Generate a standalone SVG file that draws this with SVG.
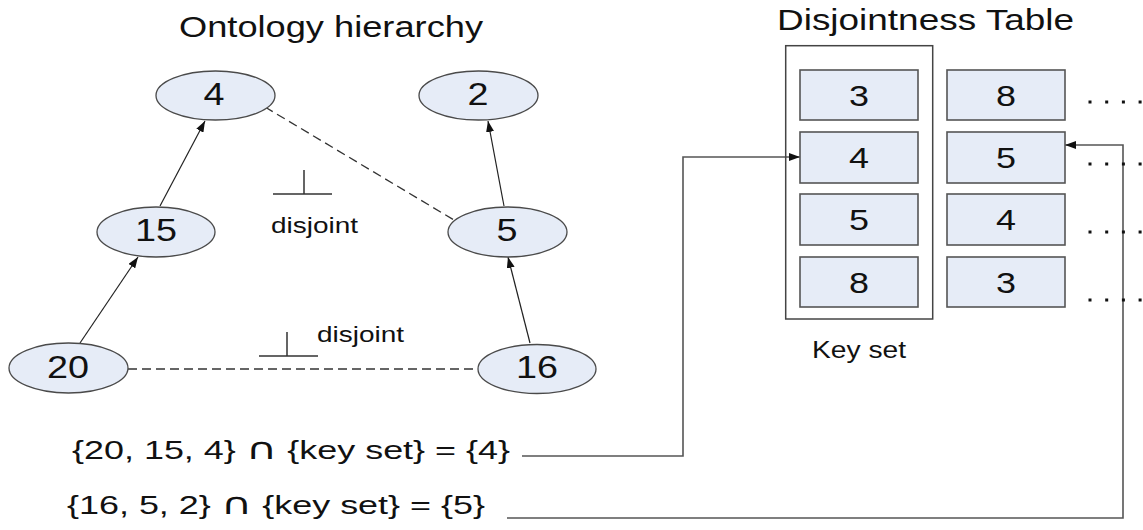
<svg xmlns="http://www.w3.org/2000/svg" width="1143" height="530" viewBox="0 0 1143 530">
<style>
text{font-family:"Liberation Sans",Arial,sans-serif;fill:#111;}
.node ellipse{fill:#e6ecf7;stroke:#4a4a4a;stroke-width:1.3;}
.cell rect{fill:#e6ecf7;stroke:#555;stroke-width:1.6;}
.lbl{font-size:31px;text-anchor:middle;}
.cl{font-size:29px;text-anchor:middle;}
.cap{font-family:"DejaVu Sans",sans-serif;font-size:30px;}
.edge{stroke:#222;stroke-width:1.2;fill:none;marker-end:url(#arr);}
.dash{stroke:#333;stroke-width:1.3;fill:none;stroke-dasharray:9 5;}
.conn{stroke:#555;stroke-width:1.6;fill:none;marker-end:url(#arr);}
.sym{stroke:#333;stroke-width:1.5;fill:none;}
.dots{stroke:#111;stroke-width:3;stroke-dasharray:3 13.7;}
</style>
<defs>
<marker id="arr" markerWidth="12" markerHeight="8" refX="11" refY="4" orient="auto" markerUnits="userSpaceOnUse">
<path d="M0,0 L11,4 L0,8 z" fill="#111"/>
</marker>
</defs>
<rect width="1143" height="530" fill="#fff"/>

<text x="179" y="37" font-size="29" textLength="304" lengthAdjust="spacingAndGlyphs">Ontology hierarchy</text>
<text x="777" y="30" font-size="29" textLength="297" lengthAdjust="spacingAndGlyphs">Disjointness Table</text>

<g id="connectors">
<line class="edge" x1="160" y1="206" x2="205" y2="121"/>
<line class="edge" x1="504" y1="206" x2="488" y2="121"/>
<line class="edge" x1="80" y1="343" x2="138" y2="257"/>
<line class="edge" x1="530" y1="343" x2="508" y2="257"/>
<line class="dash" x1="265" y1="107" x2="454" y2="220"/>
<line class="dash" x1="128" y1="369" x2="478" y2="369"/>
<polyline class="conn" points="522,456 683,456 683,157 800,157"/>
<polyline class="conn" points="507,518 1123,518 1123,145 1065,145"/>
</g>

<g id="disjoint-symbol-1">
<path class="sym" d="M304,170 V194 M273,194 H332"/>
<text x="271" y="233" font-size="22" textLength="87" lengthAdjust="spacingAndGlyphs">disjoint</text>
</g>
<g id="disjoint-symbol-2">
<path class="sym" d="M287,332 V356 M259,356 H318"/>
<text x="317" y="342" font-size="22" textLength="87" lengthAdjust="spacingAndGlyphs">disjoint</text>
</g>

<g id="node-4" class="node"><ellipse cx="215.5" cy="95.5" rx="59.5" ry="24.5"/><text class="lbl" x="214" y="105" textLength="21" lengthAdjust="spacingAndGlyphs">4</text></g>
<g id="node-2" class="node"><ellipse cx="478.5" cy="95.5" rx="59.5" ry="24.5"/><text class="lbl" x="478" y="105" textLength="21" lengthAdjust="spacingAndGlyphs">2</text></g>
<g id="node-15" class="node"><ellipse cx="156" cy="232" rx="59" ry="25"/><text class="lbl" x="156" y="241" textLength="42" lengthAdjust="spacingAndGlyphs">15</text></g>
<g id="node-5" class="node"><ellipse cx="507.5" cy="232" rx="59.5" ry="25"/><text class="lbl" x="507" y="241" textLength="21" lengthAdjust="spacingAndGlyphs">5</text></g>
<g id="node-20" class="node"><ellipse cx="68.5" cy="368" rx="59.5" ry="25"/><text class="lbl" x="68" y="378" textLength="42" lengthAdjust="spacingAndGlyphs">20</text></g>
<g id="node-16" class="node"><ellipse cx="537" cy="369" rx="59" ry="24.5"/><text class="lbl" x="537" y="378" textLength="42" lengthAdjust="spacingAndGlyphs">16</text></g>

<g id="key-set">
<rect x="785.7" y="45.7" width="147" height="273.3" fill="none" stroke="#444" stroke-width="1.5"/>
<text x="812" y="358" font-size="23" textLength="94" lengthAdjust="spacingAndGlyphs">Key set</text>
</g>

<g id="cell-k3" class="cell"><rect x="800" y="70" width="118" height="50"/><text class="cl" x="859" y="105.5" textLength="20" lengthAdjust="spacingAndGlyphs">3</text></g>
<g id="cell-k4" class="cell"><rect x="800" y="132" width="118" height="51"/><text class="cl" x="859" y="168" textLength="20" lengthAdjust="spacingAndGlyphs">4</text></g>
<g id="cell-k5" class="cell"><rect x="800" y="194" width="118" height="51"/><text class="cl" x="859" y="230" textLength="20" lengthAdjust="spacingAndGlyphs">5</text></g>
<g id="cell-k8" class="cell"><rect x="800" y="257" width="118" height="50"/><text class="cl" x="859" y="292.5" textLength="20" lengthAdjust="spacingAndGlyphs">8</text></g>
<g id="cell-v8" class="cell"><rect x="947" y="70" width="118" height="50"/><text class="cl" x="1006" y="105.5" textLength="20" lengthAdjust="spacingAndGlyphs">8</text></g>
<g id="cell-v5" class="cell"><rect x="947" y="132" width="118" height="51"/><text class="cl" x="1006" y="168" textLength="20" lengthAdjust="spacingAndGlyphs">5</text></g>
<g id="cell-v4" class="cell"><rect x="947" y="194" width="118" height="51"/><text class="cl" x="1006" y="230" textLength="20" lengthAdjust="spacingAndGlyphs">4</text></g>
<g id="cell-v3" class="cell"><rect x="947" y="257" width="118" height="50"/><text class="cl" x="1006" y="292.5" textLength="20" lengthAdjust="spacingAndGlyphs">3</text></g>

<g id="dots">
<line class="dots" x1="1088.5" y1="102" x2="1143" y2="102"/>
<line class="dots" x1="1088.5" y1="164" x2="1143" y2="164"/>
<line class="dots" x1="1088.5" y1="232" x2="1143" y2="232"/>
<line class="dots" x1="1088.5" y1="300" x2="1143" y2="300"/>
</g>

<g id="formula-1"><text x="72" y="459" font-size="25" textLength="438" lengthAdjust="spacingAndGlyphs">{20, 15, 4} <tspan class="cap">∩</tspan> {key set} = {4}</text></g>
<g id="formula-2"><text x="67" y="514" font-size="25" textLength="418" lengthAdjust="spacingAndGlyphs">{16, 5, 2} <tspan class="cap">∩</tspan> {key set} = {5}</text></g>
</svg>
